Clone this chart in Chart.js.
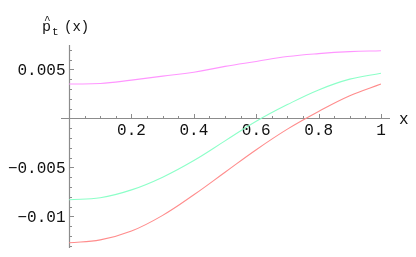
<!DOCTYPE html>
<html>
<head>
<meta charset="utf-8">
<script src="https://cdn.jsdelivr.net/npm/chart.js@4/dist/chart.umd.min.js"></script>
<style>
html,body{margin:0;padding:0;background:#fff;}
#wrap{width:416px;height:257px;position:relative;}
</style>
</head>
<body>
<div id="wrap"><canvas id="c" width="416" height="257"></canvas></div>
<script>
const xs = [0, 0.1, 0.2, 0.3, 0.4, 0.5, 0.6, 0.7, 0.8, 0.9, 1];
const magentaSeries = [0.0035, 0.00355, 0.0039, 0.0043, 0.0047, 0.0053, 0.0058, 0.0063, 0.0066, 0.0068, 0.0069];
const cyanSeries = [-0.0083, -0.0081, -0.0073, -0.0060, -0.0043, -0.0023, -0.0003, 0.0014, 0.0029, 0.0040, 0.0046];
const redSeries = [-0.0127, -0.0124, -0.0115, -0.0099, -0.0078, -0.0055, -0.0032, -0.0011, 0.0007, 0.0023, 0.0035];
const xTickValues = [0.2, 0.4, 0.6, 0.8, 1];
const xTickLabels = ['0.2', '0.4', '0.6', '0.8', '1'];
const yTickValues = [0.005, -0.005, -0.01];
const yTickLabels = ['0.005', '\u22120.005', '\u22120.01'];

function pts(ys) { return xs.map((x, i) => ({x: x, y: ys[i]})); }

const FONT = '"Liberation Mono", "DejaVu Sans Mono", monospace';

const axesPlugin = {
  id: 'mmaAxes',
  beforeDatasetsDraw(chart) {
    const ctx = chart.ctx, sx = chart.scales.x, sy = chart.scales.y, a = chart.chartArea;
    const x0 = Math.round(sx.getPixelForValue(0)) + 0.5;
    const y0 = Math.round(sy.getPixelForValue(0)) + 0.5;
    ctx.save();
    ctx.strokeStyle = 'rgb(140,140,140)';
    ctx.lineWidth = 1.2;
    ctx.beginPath();
    ctx.moveTo(a.left, y0); ctx.lineTo(a.right, y0);
    ctx.moveTo(x0, a.top); ctx.lineTo(x0, a.bottom);
    ctx.stroke();
    ctx.lineWidth = 1;
    ctx.beginPath();
    for (let i = 1; i <= 20; i++) {
      const v = i * 0.05;
      const px = Math.round(sx.getPixelForValue(v)) + 0.5;
      const len = (i % 4 === 0) ? 4.5 : 2.5;
      ctx.moveTo(px, y0); ctx.lineTo(px, y0 - len);
    }
    for (let k = -13; k <= 7; k++) {
      if (k === 0) continue;
      const v = k * 0.001;
      const py = Math.round(sy.getPixelForValue(v)) + 0.5;
      const len = (k % 5 === 0) ? 4.5 : 2.5;
      ctx.moveTo(x0, py); ctx.lineTo(x0 + len, py);
    }
    ctx.stroke();
    ctx.fillStyle = '#111';
    ctx.font = '16px ' + FONT;
    ctx.textAlign = 'center';
    ctx.textBaseline = 'alphabetic';
    xTickValues.forEach((v, i) => {
      ctx.fillText(xTickLabels[i], sx.getPixelForValue(v), y0 + 16);
    });
    ctx.textAlign = 'right';
    yTickValues.forEach((v, i) => {
      ctx.fillText(yTickLabels[i], x0 - 4, sy.getPixelForValue(v) + 6);
    });
    ctx.textAlign = 'left';
    ctx.fillText('x', 399, y0 + 5.5);
    ctx.font = '15px ' + FONT;
    ctx.fillText('p', 42, 31);
    ctx.font = '11px ' + FONT;
    ctx.fillText('^', 44, 23);
    ctx.fillText('t', 52, 35);
    ctx.font = '14px ' + FONT;
    ctx.fillText('(x)', 64, 31);
    ctx.restore();
  }
};

new Chart(document.getElementById('c'), {
  type: 'line',
  data: {
    datasets: [
      {data: pts(magentaSeries), borderColor: 'rgb(255,150,255)', borderWidth: 1.1},
      {data: pts(cyanSeries), borderColor: 'rgb(140,255,200)', borderWidth: 1.1},
      {data: pts(redSeries), borderColor: 'rgb(255,140,140)', borderWidth: 1.1}
    ]
  },
  options: {
    responsive: false,
    animation: false,
    devicePixelRatio: 1,
    layout: {padding: {left: 61, right: 26, top: 45, bottom: 9}},
    elements: {point: {radius: 0}, line: {tension: 0.4, cubicInterpolationMode: 'default'}},
    plugins: {legend: {display: false}, tooltip: {enabled: false}},
    scales: {
      x: {type: 'linear', display: false, min: -0.026, max: 1.029},
      y: {type: 'linear', display: false, min: -0.01323, max: 0.00748}
    }
  },
  plugins: [axesPlugin]
});
</script>
</body>
</html>
